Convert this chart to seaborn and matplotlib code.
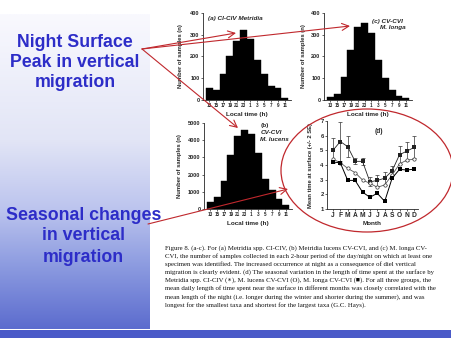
import numpy as np
import matplotlib
matplotlib.use('Agg')
import matplotlib.pyplot as plt
import seaborn as sns
from matplotlib.patches import Ellipse, Rectangle

# ---------------- data ----------------
hours = ["13", "15", "17", "19", "21", "23", "1", "3", "5", "7", "9", "11"]
metridia_ci_civ = [56, 46, 121, 203, 273, 322, 280, 186, 121, 65, 56, 10]
lucens_cv_cvi = [430, 680, 1600, 3150, 4260, 4610, 4380, 3250, 1730, 1110, 560, 230]
longa_cv_cvi = [15, 28, 108, 232, 335, 353, 307, 186, 101, 47, 19, 9]

months = ["J", "F", "M", "A", "M", "J", "J", "A", "S", "O", "N", "D"]
surf_metridia = [5.0, 5.6, 5.25, 4.25, 4.25, 2.85, 2.95, 3.1, 3.6, 4.7, 4.95, 5.2]
surf_metridia_err = [0.85, 1.3, 0.7, 0.2, 0.25, 0.3, 0.35, 0.45, 0.3, 0.6, 0.65, 0.75]
surf_lucens = [4.4, 4.16, 3.77, 3.48, 2.98, 2.75, 2.48, 2.64, 3.32, 4.07, 4.34, 4.39]
surf_longa = [4.2, 4.15, 2.95, 2.95, 2.15, 1.8, 2.07, 1.52, 3.1, 3.7, 3.66, 3.72]

caption = [
    "Figure 8. (a-c). For (a) Metridia spp. CI-CIV, (b) Metridia lucens CV-CVI, and (c) M. longa CV-",
    "CVI, the number of samples collected in each 2-hour period of the day/night on which at least one",
    "specimen was identified. The increased occurrence at night as a consequence of diel vertical",
    "migration is clearly evident. (d) The seasonal variation in the length of time spent at the surface by",
    "Metridia spp. CI-CIV (\u2217), M. lucens CV-CVI (O), M. longa CV-CVI (\u25a0). For all three groups, the",
    "mean daily length of time spent near the surface in different months was closely correlated with the",
    "mean length of the night (i.e. longer during the winter and shorter during the summer), and was",
    "longest for the smallest taxa and shortest for the largest taxa (G.C. Hays).",
]

# ---------------- style ----------------
sns.set_style("ticks")
plt.rcParams['font.family'] = ['Liberation Sans', 'DejaVu Sans']
W, H = 451, 338
fig = plt.figure(figsize=(W / 100, H / 100), dpi=100)
fig.patch.set_facecolor('white')
RED = '#c0282d'
BLUE = '#2d2dc8'


def rect(l, t, r, b):
    return [l / W, 1 - b / H, (r - l) / W, (b - t) / H]


# background layer
bg = fig.add_axes([0, 0, 1, 1], zorder=-5)
bg.set_xlim(0, W)
bg.set_ylim(H, 0)
bg.axis('off')
ts = np.linspace(0, 1, 300)
stops_t = [0.0, 0.4, 0.62, 0.8, 1.0]
stops_c = np.array([[249, 249, 254], [226, 229, 246], [188, 196, 238], [140, 155, 224], [92, 108, 206]]) / 255
grad = np.stack([np.interp(ts, stops_t, stops_c[:, k]) for k in range(3)], axis=-1)[:, None, :]
bg.imshow(grad, extent=[0, 150, 329, 14], aspect='auto', interpolation='bilinear')
bg.add_patch(Rectangle((0, 329.5), W, 9, color='#4a5ac8', lw=0))
bg.set_xlim(0, W)
bg.set_ylim(H, 0)


def hist(r, vals, ymax, step, ylab_x, texts):
    ax = fig.add_axes(rect(*r))
    sns.barplot(x=hours, y=vals, order=hours, color='black', width=1.0, saturation=1,
                edgecolor='black', linewidth=0.3, ax=ax)
    ax.set_xlim(-0.9, 11.9)
    ax.set_ylim(0, ymax)
    ax.set_yticks(np.arange(0, ymax + 1, step))
    ax.tick_params(axis='both', length=1.5, width=0.5, pad=1)
    ax.tick_params(axis='x', labelsize=3.3)
    ax.tick_params(axis='y', labelsize=4.0)
    for lab in ax.get_xticklabels() + ax.get_yticklabels():
        lab.set_fontweight('bold')
    sns.despine(ax=ax)
    for s in ['left', 'bottom']:
        ax.spines[s].set_linewidth(0.6)
    ax.set_xlabel("Local time (h)", fontsize=4.6, fontweight='bold')
    ax.xaxis.set_label_coords(0.5, -0.14)
    ax.set_ylabel("Number of samples (n)", fontsize=4.2, fontweight='bold')
    ax.yaxis.set_label_coords(ylab_x, 0.5)
    ax.patch.set_alpha(0)
    for (tx, ty, s, st) in texts:
        ax.text(tx, ty, s, transform=ax.transAxes, fontsize=4.6, fontweight='bold',
                style=st, va='top', ha='left')
    return ax


hist((203, 13, 291, 100), metridia_ci_civ, 400, 100, -0.23,
     [(0.06, 0.97, "(a) CI-CIV Metridia", 'italic')])
hist((324, 13, 412, 100), longa_cv_cvi, 400, 100, -0.2,
     [(0.55, 0.93, "(c) CV-CVI", 'italic'), (0.64, 0.86, "M. longa", 'italic')])
hist((204, 123, 292, 209), lucens_cv_cvi, 5000, 1000, -0.25,
     [(0.64, 1.0, "(b)", 'normal'), (0.64, 0.92, "CV-CVI", 'italic'),
      (0.64, 0.84, "M. lucens", 'italic')])

# panel d
axd = fig.add_axes(rect(327, 121, 418, 209))
x = list(range(12))
axd.errorbar(x, surf_metridia, yerr=surf_metridia_err, fmt='none', ecolor='#333333',
             elinewidth=0.5, capsize=1.5, capthick=0.5)
sns.lineplot(x=x, y=surf_metridia, color='#222222', lw=0.6, marker='s', markersize=2.6,
             markeredgewidth=0, ax=axd)
sns.lineplot(x=x, y=surf_lucens, color='#555555', lw=0.6, marker='o', markersize=2.4,
             markerfacecolor='white', markeredgecolor='#333333', markeredgewidth=0.5, ax=axd)
sns.lineplot(x=x, y=surf_longa, color='black', lw=0.7, marker='s', markersize=3.4,
             markeredgewidth=0, ax=axd)
axd.set_xlim(-0.8, 11.5)
axd.set_ylim(1, 7)
axd.set_xticks(x)
axd.set_xticklabels(months)
axd.set_yticks(range(1, 8))
axd.tick_params(axis='both', length=1.5, width=0.5, pad=1)
axd.tick_params(axis='x', labelsize=4.8)
axd.tick_params(axis='y', labelsize=4.2)
for lab in axd.get_xticklabels() + axd.get_yticklabels():
    lab.set_fontweight('bold')
sns.despine(ax=axd)
for s in ['left', 'bottom']:
    axd.spines[s].set_linewidth(0.6)
axd.set_xlabel("Month", fontsize=4.6, fontweight='bold')
axd.xaxis.set_label_coords(0.5, -0.14)
axd.set_ylabel("Mean time at surface (+/- 2 SE)", fontsize=4.2, fontweight='bold')
axd.yaxis.set_label_coords(-0.155, 0.5)
axd.text(0.52, 0.86, "(d)", transform=axd.transAxes, fontsize=4.8, fontweight='bold')
axd.patch.set_alpha(0)

# foreground layer
fg = fig.add_axes([0, 0, 1, 1], zorder=10)
fg.set_xlim(0, W)
fg.set_ylim(H, 0)
fg.axis('off')
fg.patch.set_alpha(0)

for i, line in enumerate(["Night Surface", "Peak in vertical", "migration"]):
    fg.text(75, 46.7 + i * 20, line, ha='center', va='baseline', fontsize=12.8,
            fontweight='bold', color=BLUE)
for i, line in enumerate(["Seasonal changes", "in vertical", "migration"]):
    fg.text(83.5, 219.5 + i * 21, line, ha='center', va='baseline', fontsize=12.8,
            fontweight='bold', color=BLUE)

arrow_kw = dict(arrowstyle='->,head_length=0.5,head_width=0.25', color=RED, lw=0.8,
                shrinkA=0, shrinkB=0)
for tip in [(236, 33), (350, 26), (238, 128)]:
    fg.annotate('', xy=tip, xytext=(142, 49), arrowprops=arrow_kw)
fg.annotate('', xy=(288, 189), xytext=(148, 224), arrowprops=arrow_kw)

fg.add_patch(Ellipse((367, 170.5), 172, 123, fill=False, edgecolor=RED, lw=0.9))

for i, line in enumerate(caption):
    fg.text(165, 248 + i * 8.1, line, ha='left', va='center', fontsize=4.9,
            family=['Liberation Serif', 'DejaVu Serif'], color='#111111')

fig.savefig('out.png', dpi=100, facecolor='white')
